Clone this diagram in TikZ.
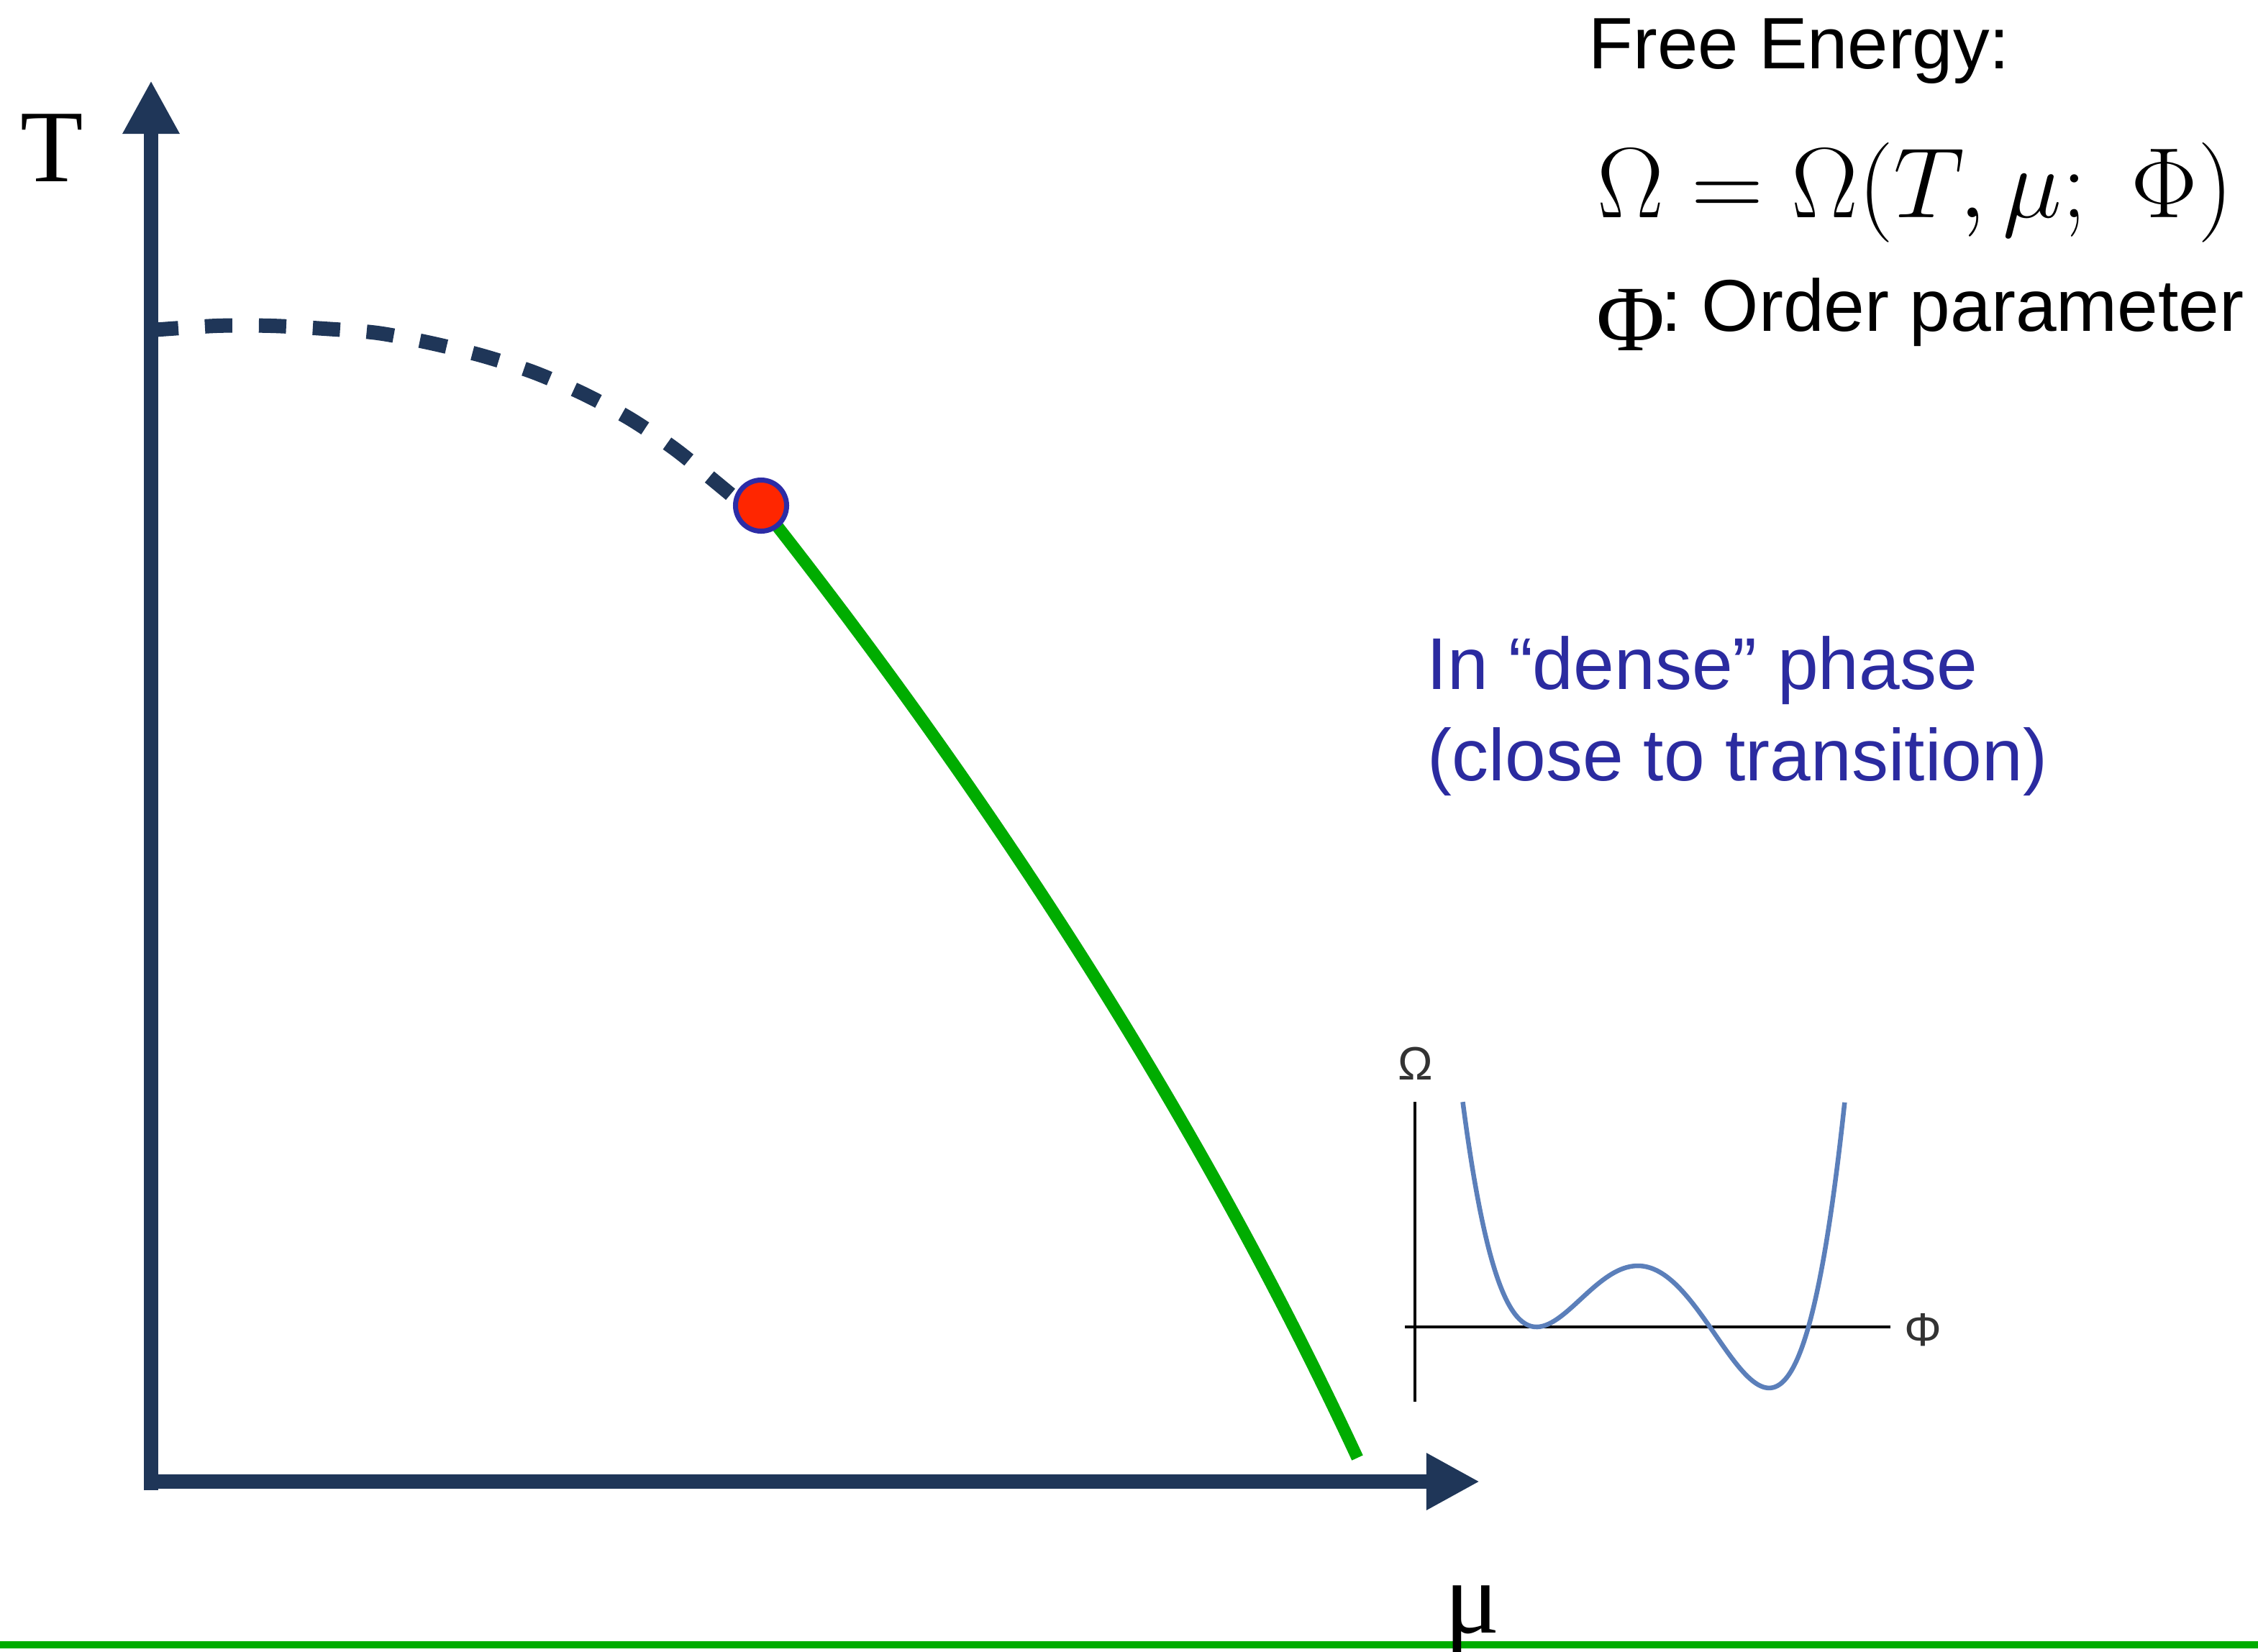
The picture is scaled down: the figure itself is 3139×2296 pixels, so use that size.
\RequirePackage{fix-cm}
\documentclass[tikz,border=0pt]{standalone}
\usepackage{fontspec}
\setmainfont{Liberation Sans}
\newfontfamily\timesf{Liberation Serif}
\usetikzlibrary{arrows.meta}
\definecolor{axisnavy}{RGB}{31,54,88}
\definecolor{phasegreen}{RGB}{0,172,0}
\definecolor{critred}{RGB}{255,38,0}
\definecolor{ringblue}{RGB}{44,44,166}
\definecolor{textblue}{RGB}{43,43,160}
\definecolor{insetcurve}{RGB}{91,127,186}
\definecolor{insettext}{RGB}{51,51,51}
\begin{document}
\begin{tikzpicture}[x=0.01cm,y=-0.01cm,
  axisline/.style={draw=axisnavy, line width=0.2cm, -{Triangle[length=0.74cm,width=0.74cm]}},
  firstorder/.style={draw=phasegreen, line width=0.17cm},
  crossover/.style={draw=axisnavy, line width=0.2cm, dash pattern=on 0.38cm off 0.37cm},
  critpoint/.style={circle, draw=ringblue, fill=critred, line width=0.07cm, minimum size=0.71cm, inner sep=0pt},
  bigserif/.style={font=\timesf\fontsize{40.7pt}{48pt}\selectfont, inner sep=0pt, anchor=base},
  sanstext/.style={font=\fontsize{28.8pt}{36pt}\selectfont, inner sep=0pt, anchor=base west},
  bluetext/.style={font=\fontsize{29pt}{36pt}\selectfont, text=textblue, inner sep=0pt, anchor=base west},
  insetaxis/.style={draw=black, line width=0.045cm},
  insetlabel/.style={font=\fontsize{18.5pt}{22pt}\selectfont, text=insettext, inner sep=0pt, anchor=base}]
\useasboundingbox (0,0) rectangle (3139,2296);
\fill[white] (0,0) rectangle (3139,2296);

% bottom green line
\coordinate (gl) at (0,2287);
\coordinate (gr) at (3139,2287);
\draw[draw=phasegreen, line width=0.1cm] (gl) -- (gr);

% axes
\coordinate (vbot) at (210,2072);
\coordinate (vtop) at (210,112);
\coordinate (hleft) at (200,2060);
\coordinate (hright) at (2057,2060);
\draw[axisline] (vbot) -- (vtop);
\draw[axisline] (hleft) -- (hright);

% crossover (dashed)
\draw[crossover] plot[smooth] coordinates {(210,459) (301,453) (377,453) (451,457) (525,463) (599,477) (672,495) (743,518) (812,548) (877,583) (939,625) (997,672) (1045,712)};

% first order line
\coordinate (cp) at (1058,703);
\coordinate (gend) at (1887,2027);
\draw[firstorder] (cp) .. controls (1406,1144) and (1682,1586) .. (gend);

% critical point
\node[critpoint] (crit) at (cp) {};

% labels of axes
\node[bigserif] (tlabel) at (72,252) {T};
\node[bigserif] (mulabel) at (2047,2270) {μ};

% free energy text
\node[sanstext] (fe) at (2208,95) {Free Energy:};
\node[font=\fontsize{39.5pt}{47pt}\selectfont, inner sep=0pt, anchor=base west] (eq) at (2220,302) {$\Omega = \Omega(T, \mu;\; \Phi)$};
\node[font=\timesf\fontsize{37pt}{44pt}\selectfont, inner sep=0pt, anchor=base west] (phi) at (2219,487) {Φ};
\node[font=\fontsize{29pt}{36pt}\selectfont, inner sep=0pt, anchor=base west] (colon) at (2309,460) {:};
\node[font=\fontsize{29pt}{36pt}\selectfont, inner sep=0pt, anchor=base west] (op) at (2365,460) {Order parameter};

% dense phase text
\node[bluetext] (dense1) at (1983,958) {In “dense” phase};
\node[bluetext] (dense2) at (1984,1085) {(close to transition)};

% inset
\coordinate (iat) at (1967,1532);
\coordinate (iab) at (1967,1949);
\coordinate (ial) at (1953,1845);
\coordinate (iar) at (2628,1845);
\draw[insetaxis] (iat) -- (iab);
\draw[insetaxis] (ial) -- (iar);
\draw[draw=insetcurve, line width=0.065cm] plot[domain=-1.025:4.285, samples=160, smooth] ({2136+100*\x}, {1845-18.04*\x*\x*(\x-2.41)*(\x-3.78)});
\node[insetlabel] (omlab) at (1968,1501) {Ω};
\node[insetlabel] (philab) at (2673,1871) {Φ};
\end{tikzpicture}
\end{document}
